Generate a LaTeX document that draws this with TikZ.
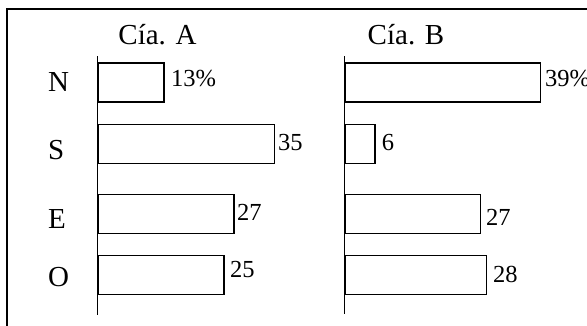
\documentclass[tikz,border=0pt]{standalone}
\usepackage{fontspec}
\setmainfont{Liberation Serif}
\usepackage{tikz}
\usetikzlibrary{positioning}

\tikzset{
    bar/.style={draw, rectangle, line width=1.2pt, fill=white, inner sep=0pt, minimum height=39pt, anchor=north west},
    axis/.style={line width=1pt},
    zone/.style={font=\fontsize{29}{34}\selectfont, inner sep=0pt, anchor=base west},
    title/.style={font=\fontsize{29}{34}\selectfont, inner sep=0pt, anchor=base},
    val/.style={font=\fontsize{24.5}{29}\selectfont, inner sep=0pt, anchor=base west}
}

\begin{document}
\begin{tikzpicture}[x=1pt, y=-1pt]
    \useasboundingbox (0,0) rectangle (587,325);

    % outer frame (cut off at right and bottom)
    \draw[line width=2pt] (6.7,330) -- (6.7,9.3) -- (592,9.3);

    % titles
    \node[title] (titleA) at (157.5,44.5) {Cía. A};
    \node[title] (titleB) at (406,44.5) {Cía. B};

    % zone labels
    \node[zone] (N) at (48,91.7) {N};
    \node[zone] (S) at (48,159) {S};
    \node[zone] (E) at (48,228) {E};
    \node[zone] (O) at (48,286.5) {O};

    % axes
    \coordinate (Atop) at (97.7,56);
    \coordinate (Abot) at (97.7,315);
    \coordinate (Btop) at (344.5,56);
    \coordinate (Bbot) at (344.5,314);
    \draw[axis] (Atop) -- (Abot);
    \draw[axis] (Btop) -- (Bbot);

    % Cia. A bars
    \node[bar, minimum width=65.6pt] (AN) at (97.7,62.3) {};
    \node[bar, minimum width=176.3pt] (AS) at (97.7,124) {};
    \node[bar, minimum width=135.6pt] (AE) at (97.7,194) {};
    \node[bar, minimum width=125.6pt] (AO) at (97.7,255) {};

    % Cia. B bars
    \node[bar, minimum width=195.5pt] (BN) at (344.5,62.3) {};
    \node[bar, minimum width=29.8pt] (BS) at (344.5,124) {};
    \node[bar, minimum width=135.5pt] (BE) at (344.5,194) {};
    \node[bar, minimum width=141.2pt] (BO) at (344.5,255) {};

    % values
    \node[val] (vAN) at (171,86.7) {13\%};
    \node[val] (vAS) at (278,150) {35};
    \node[val] (vAE) at (237,220) {27};
    \node[val] (vAO) at (230,277) {25};
    \node[val] (vBN) at (545,86.7) {39\%};
    \node[val] (vBS) at (381.7,150) {6};
    \node[val] (vBE) at (486,225) {27};
    \node[val] (vBO) at (493,282) {28};
\end{tikzpicture}
\end{document}
